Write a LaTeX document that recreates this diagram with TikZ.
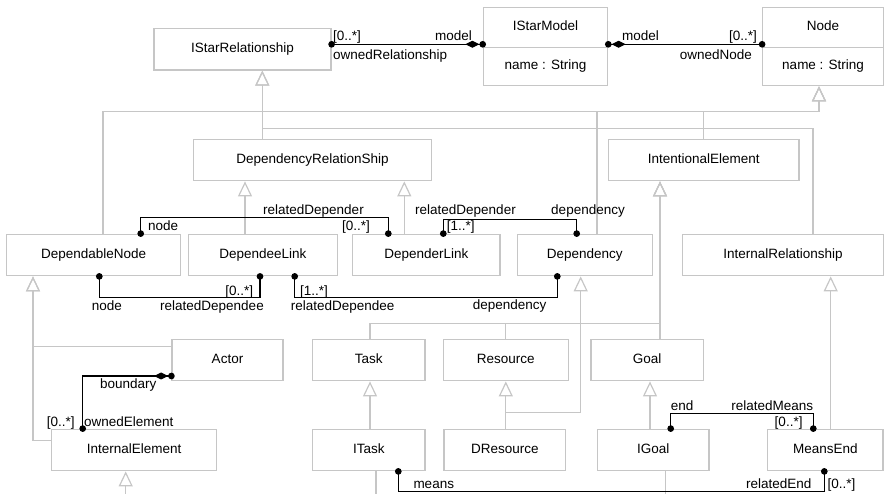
\documentclass[tikz,border=0pt]{standalone}
\usepackage{fontspec}
\setmainfont{Liberation Sans}
\usetikzlibrary{arrows.meta}

\begin{document}
\begin{tikzpicture}[x=1pt,y=-1pt,font=\fontsize{13.5}{16}\selectfont,cls/.style={shape=rectangle,draw=gray!45,line width=1.2pt,inner sep=0pt,minimum height=41.6,text height=9.7pt,text depth=3.5pt},gen/.style={draw=gray!45,line width=1.2pt,-{Triangle[open,length=15pt,width=14pt]}},genL/.style={draw=gray!45,line width=1.2pt},lnk/.style={line width=1.1pt,shorten <=-3.3pt,shorten >=-3.3pt,{Circle[length=6.6pt]}-{Circle[length=6.6pt]}},lnkC/.style={lnk,{Circle[length=6.6pt]}-{Diamond[length=14pt,width=7pt]Circle[length=6.6pt]}},lbl/.style={inner sep=0pt}]
\def\hT{40.4};
\def\hA{38};

\useasboundingbox (0,0) rectangle (884,494);

%CLASSES
\node[cls,minimum width=177] (ISR) at (242.5,49.2) {IStarRelationship};
\node[cls,minimum width=124.4,minimum height=\hT] (ISMt) at (545.5,27.5) {IStarModel};
\node[cls,minimum width=124.4,minimum height=\hA] (ISMa) at (545.5,66.7) {name : String};
\node[cls,minimum width=120.6,minimum height=\hT] (NDt) at (823,27.5) {Node};
\node[cls,minimum width=120.6,minimum height=\hA] (NDa) at (823,66.7) {name : String};

\node[cls,minimum width=238.4] (DRS) at (312.5,160) {DependencyRelationShip};
\node[cls,minimum width=190.7] (IE) at (703.7,160) {IntentionalElement};

\node[cls,minimum width=174] (DN) at (93.7,255) {DependableNode};
\node[cls,minimum width=149] (DEL) at (262.8,255) {DependeeLink};
\node[cls,minimum width=147.3] (DRL) at (426.3,255) {DependerLink};
\node[cls,minimum width=135] (DEP) at (584.8,255) {Dependency};
\node[cls,minimum width=200.6] (IR) at (783,255) {InternalRelationship};

\node[cls,minimum width=111] (ACT) at (227.5,360) {Actor};
\node[cls,minimum width=112.3] (TSK) at (368.8,360) {Task};
\node[cls,minimum width=125] (RES) at (505.8,360) {Resource};
\node[cls,minimum width=112.3] (GL) at (647.2,360) {Goal};

\node[cls,minimum width=165] (INE) at (134.2,450) {InternalElement};
\node[cls,minimum width=112.3] (ITK) at (368.8,450) {ITask};
\node[cls,minimum width=121.7] (DRES) at (504.8,450) {DResource};
\node[cls,minimum width=111.7] (IGL) at (653.2,450) {IGoal};
\node[cls,minimum width=115.3] (ME) at (825.3,450) {MeansEnd};

%TRIANGLE TIPS
\coordinate (isrT) at ([xshift=19.8pt]ISR.south);
\coordinate (ndT) at ([xshift=-4pt]NDa.south);
\coordinate (drsA) at ([xshift=-67.5pt]DRS.south);
\coordinate (drsB) at ([xshift=91.8pt]DRS.south);
\coordinate (ieT) at ([xshift=-43.7pt]IE.south);
\coordinate (dnT) at ([xshift=-60.7pt]DN.south);
\coordinate (depT) at ([xshift=-4.1pt]DEP.south);
\coordinate (irT) at ([xshift=47.7pt]IR.south);
\coordinate (tskT) at ([xshift=1.2pt]TSK.south);
\coordinate (resT) at (RES.south);
\coordinate (glT) at ([xshift=2.8pt]GL.south);
\coordinate (ineT) at ([xshift=-8.5pt]INE.south);
\coordinate (ineC) at (125.7,494);
\coordinate (itkC) at (376,494);
\coordinate (iglC) at (665.7,494);

%GENERALISATIONS
\draw[gen] (DRS.north -| isrT) -- (isrT);
\draw[gen] ([xshift=30pt]IR.north) -- ++(0,-105) -| (isrT);
\draw[gen] ([xshift=9.3pt]DN.north) -- ++(0,-122) -| (ndT);
\draw[gen] ([xshift=12.2pt]DEP.north) -- ++(0,-122) -| (ndT);
\draw[gen] (IE.north) -- ++(0,-27) -| (ndT);
\draw[gen] (DEL.north -| drsA) -- (drsA);
\draw[gen] (DRL.north -| drsB) -- (drsB);
\draw[gen] ([xshift=1.2pt]TSK.north) -- ++(0,-15) -| (ieT);
\draw[gen] (RES.north) -- ++(0,-15) -| (ieT);
\draw[gen] (GL.north -| ieT) -- (ieT);
\draw[gen] ([yshift=13.3pt]ACT.west) -| (dnT);
\draw[gen] ([yshift=9.3pt]INE.west) -| (dnT);
\draw[gen] (DRES.north -| resT) -- (resT);
\draw[gen] (DRES.north -| resT) -- ++(0,-16) -| (depT);
\draw[gen] (ITK.north -| tskT) -- (tskT);
\draw[gen] (IGL.north -| glT) -- (glT);
\draw[gen] (ME.north -| irT) -- (irT);
\draw[gen] (ineC) -- (ineT);
\draw[genL] ([xshift=7.2pt]ITK.south) -- (itkC);
\draw[genL] ([xshift=12.5pt]IGL.south) -- (iglC);

%ASSOCIATIONS
\draw[lnkC] ([yshift=4.9pt]ISR.east) -- ([yshift=-16.8pt]ISMt.west);
\node[lbl,anchor=base west] (aRm) at (333,40.5) {[0..*]};
\node[lbl,anchor=base west] (aRo) at (333,60) {ownedRelationship};
\node[lbl,anchor=base east] (aRs) at (472,41) {model};

\draw[lnkC] ([yshift=-16.8pt]NDt.west) -- ([yshift=-16.8pt]ISMt.east);
\node[lbl,anchor=base west] (aNs) at (622,41) {model};
\node[lbl,anchor=base east] (aNm) at (757,41) {[0..*]};
\node[lbl,anchor=base east] (aNo) at (752,59.5) {ownedNode};

\draw[lnk] ([xshift=47pt]DN.north) -- ++(0,-16) -| ([xshift=-38pt]DRL.north);
\node[lbl,anchor=base west] (bNn) at (148,231) {node};
\node[lbl,anchor=base west] (bNr) at (263,214.7) {relatedDepender};
\node[lbl,anchor=base east] (bNm) at (370,231) {[0..*]};

\draw[lnk] ([xshift=17pt]DRL.north) -- ++(0,-14.5) -| ([xshift=-8.1pt]DEP.north);
\node[lbl,anchor=base west] (bDr) at (415,214.7) {relatedDepender};
\node[lbl,anchor=base east] (bDd) at (625,215) {dependency};
\node[lbl,anchor=base west] (bDm) at (446.7,231) {[1..*]};

\draw[lnk] ([xshift=5.6pt]DN.south) -- ++(0,21) -| ([xshift=-2.8pt]DEL.south);
\node[lbl,anchor=base west] (cNn) at (91.7,310.7) {node};
\node[lbl,anchor=base west] (cNr) at (160,310.7) {relatedDependee};
\node[lbl,anchor=base east] (cNm) at (253.3,295.3) {[0..*]};

\draw[lnk] ([xshift=31.9pt]DEL.south) -- ++(0,21) -| ([xshift=-27.5pt]DEP.south);
\node[lbl,anchor=base west] (cDm) at (300,295.3) {[1..*]};
\node[lbl,anchor=base west] (cDr) at (290.7,310.7) {relatedDependee};
\node[lbl,anchor=base east] (cDd) at (546.7,310) {dependency};

\draw[lnkC] ([xshift=-51.5pt]INE.north) |- ([yshift=-16pt]ACT.west);
\node[lbl,anchor=base west] (dAb) at (100,388.3) {boundary};
\node[lbl,anchor=base west] (dAm) at (46.7,426.7) {[0..*]};
\node[lbl,anchor=base west] (dAo) at (84,426.7) {ownedElement};

\draw[lnk] ([xshift=17.5pt]IGL.north) -- ++(0,-15.5) -| ([xshift=-12pt]ME.north);
\node[lbl,anchor=base west] (eGe) at (670.7,410) {end};
\node[lbl,anchor=base east] (eGr) at (813.3,410) {relatedMeans};
\node[lbl,anchor=base east] (eGm) at (802.7,426.7) {[0..*]};

\draw[lnk] ([xshift=29.5pt]ITK.south) -- ++(0,20.5) -| ([xshift=-1pt]ME.south);
\node[lbl,anchor=base west] (eTm) at (413.3,488.3) {means};
\node[lbl,anchor=base east] (eTr) at (811.7,488.3) {relatedEnd};
\node[lbl,anchor=base west] (eTs) at (827.3,488.3) {[0..*]};
\end{tikzpicture}
\end{document}
